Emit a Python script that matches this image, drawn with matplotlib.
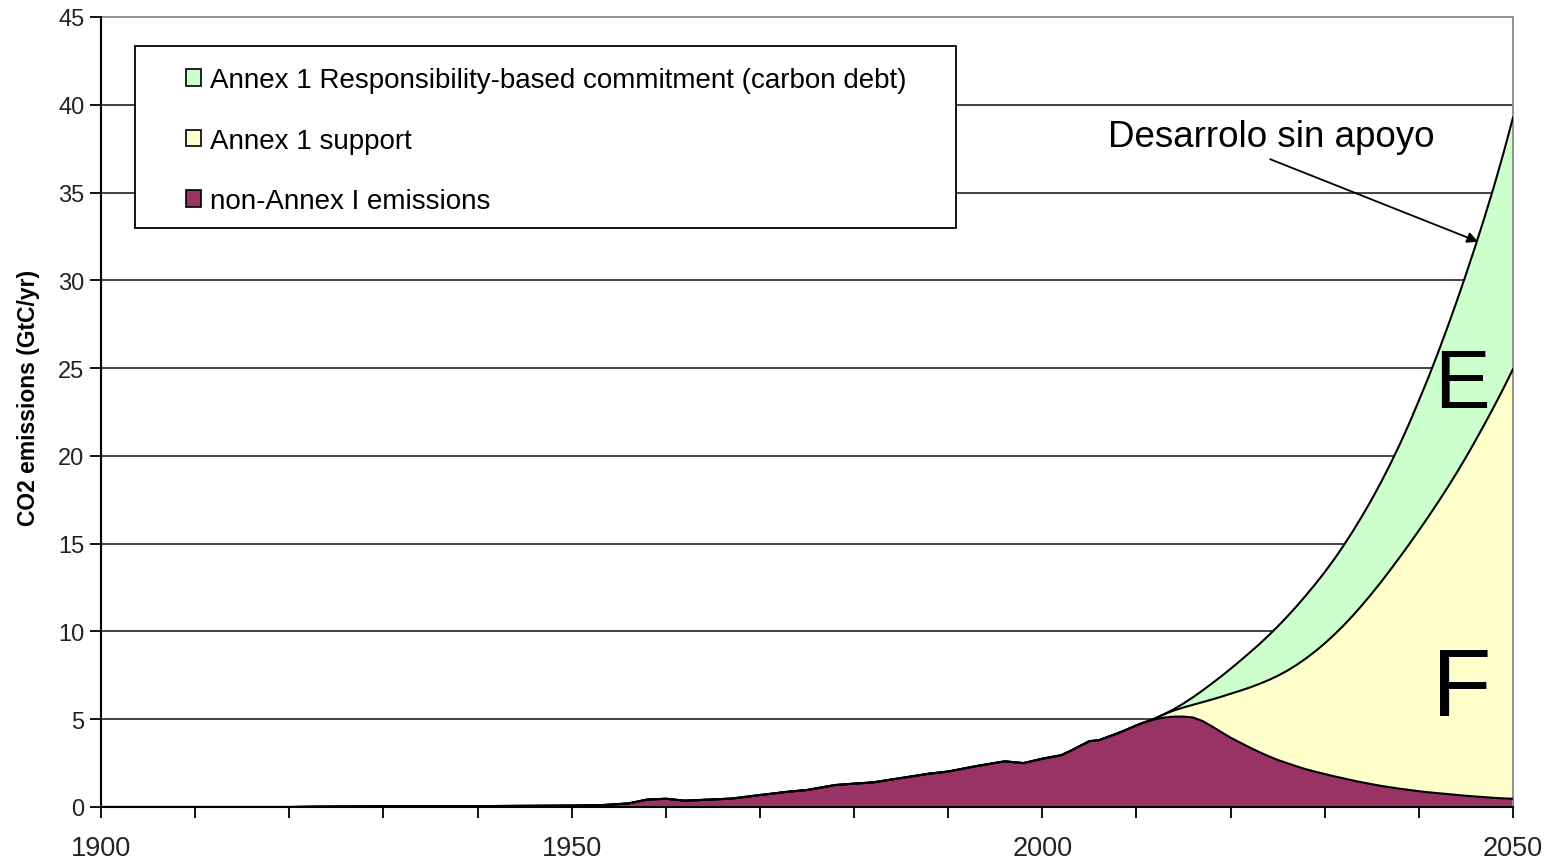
import matplotlib
matplotlib.use("Agg")
import matplotlib.pyplot as plt
import numpy as np
from matplotlib.patches import Patch, Rectangle

plt.rcParams['font.family'] = ['Liberation Sans', 'DejaVu Sans']

# --- historical non-Annex I emissions (GtC/yr) ---
hist_years = [1900, 1920, 1923, 1930, 1940, 1950, 1953, 1956, 1958, 1960, 1962, 1965,
              1967, 1970, 1973, 1975, 1978, 1980, 1982, 1985, 1988, 1990, 1993, 1996,
              1998, 2000, 2002, 2003, 2005, 2006]
hist_non_annex_I = [0, 0, 0.02, 0.04, 0.05, 0.08, 0.1, 0.2, 0.42, 0.47, 0.36, 0.43,
                    0.48, 0.68, 0.87, 0.97, 1.25, 1.33, 1.4, 1.65, 1.9, 2.02, 2.33, 2.6,
                    2.5, 2.75, 2.95, 3.2, 3.75, 3.8]

# --- projection 2008-2050 (stacked boundaries) ---
proj_years = list(range(2008, 2051))
proj_non_annex_I = [4.2, 4.42, 4.65, 4.85, 5.0, 5.1, 5.15, 5.15, 5.1, 4.9, 4.6, 4.27,
                    3.95, 3.67, 3.4, 3.14, 2.9, 2.68, 2.5, 2.32, 2.15, 2.01, 1.88, 1.75,
                    1.63, 1.51, 1.4, 1.3, 1.2, 1.12, 1.04, 0.97, 0.9, 0.84, 0.79, 0.74,
                    0.69, 0.64, 0.6, 0.56, 0.52, 0.49, 0.47]
proj_with_support = [4.2, 4.42, 4.65, 4.85, 5.05, 5.3, 5.5, 5.67, 5.82, 5.97, 6.12, 6.28,
                     6.45, 6.62, 6.8, 7.0, 7.22, 7.47, 7.76, 8.09, 8.46, 8.87, 9.32, 9.81,
                     10.34, 10.91, 11.52, 12.16, 12.83, 13.53, 14.25, 14.99, 15.75, 16.53,
                     17.33, 18.16, 19.02, 19.92, 20.86, 21.83, 22.83, 23.86, 24.95]
proj_total = [4.2, 4.42, 4.65, 4.85, 5.05, 5.3, 5.58, 5.9, 6.25, 6.63, 7.03, 7.44,
              7.87, 8.32, 8.78, 9.25, 9.75, 10.28, 10.84, 11.43, 12.05, 12.70, 13.38,
              14.11, 14.89, 15.72, 16.60, 17.53, 18.52, 19.57, 20.69, 21.88, 23.15,
              24.45, 25.83, 27.27, 28.77, 30.33, 31.95, 33.63, 35.39, 37.27, 39.27]

series_labels = ["Annex 1 Responsibility-based commitment (carbon debt)",
                 "Annex 1 support",
                 "non-Annex I emissions"]
x_tick_labels = ["1900", "1950", "2000", "2050"]
y_label = "CO2 emissions (GtC/yr)"
annotation_text = "Desarrolo sin apoyo"

c_debt = "#CCFFCC"
c_support = "#FFFFCC"
c_non = "#993366"

# components of the stack
years = np.array(hist_years + proj_years, dtype=float)
non_annex_I = np.array(hist_non_annex_I + proj_non_annex_I)
annex1_support = np.concatenate([np.zeros(len(hist_years)),
                                 np.array(proj_with_support) - np.array(proj_non_annex_I)])
annex1_debt = np.concatenate([np.zeros(len(hist_years)),
                              np.array(proj_total) - np.array(proj_with_support)])

fig = plt.figure(figsize=(15.49, 8.62), dpi=100)
ax = fig.add_axes([101/1549, 1-808/862, (1513-101)/1549, (808-18)/862])

top1 = non_annex_I
top2 = top1 + annex1_support
top3 = top2 + annex1_debt

for yv in range(5, 45, 5):
    ax.axhline(yv, color="#333333", lw=1.3, zorder=1)

ax.fill_between(years, top2, top3, facecolor=c_debt, edgecolor="none", zorder=2)
ax.fill_between(years, top1, top2, facecolor=c_support, edgecolor="none", zorder=2)
ax.fill_between(years, 0, top1, facecolor=c_non, edgecolor="none", zorder=2)
ax.plot(years, top3, color="black", lw=1.5, zorder=3)
ax.plot(years, top2, color="black", lw=1.5, zorder=3)
ax.plot(years, top1, color="black", lw=1.5, zorder=3)

ax.set_xlim(1900, 2050)
ax.set_ylim(0, 45)
ax.set_xticks([1900, 1950, 2000, 2050])
ax.set_xticklabels(x_tick_labels)
ax.set_xticks(np.arange(1900, 2051, 10), minor=True)
ax.set_yticks(np.arange(0, 46, 5))
ax.tick_params(axis='x', which='both', direction='out', length=8, width=1.3,
               colors='black', labelsize=19.5, pad=12)
ax.tick_params(axis='y', direction='out', length=8, width=1.3, labelsize=17, pad=4)
for lbl in ax.get_xticklabels() + ax.get_yticklabels():
    lbl.set_color("#222222")

for side in ["left", "bottom"]:
    ax.spines[side].set_color("black")
    ax.spines[side].set_linewidth(1.5)
    ax.spines[side].set_zorder(5)
for side in ["top", "right"]:
    ax.spines[side].set_color("#888888")
    ax.spines[side].set_linewidth(1.3)

fig.text(28/1549, 1-398/862, y_label, rotation=90, ha="center", va="center",
         fontsize=16.5, fontweight="bold")

# legend box
rect = Rectangle((135/1549, 1-229/862), (956-135)/1549, (229-47)/862,
                 transform=fig.transFigure, facecolor="white", edgecolor="black",
                 lw=1.3, zorder=5, clip_on=False)
ax.add_patch(rect)

handles = [Patch(facecolor=c_debt, edgecolor="black", lw=1.2),
           Patch(facecolor=c_support, edgecolor="black", lw=1.2),
           Patch(facecolor=c_non, edgecolor="black", lw=1.2)]
leg = ax.legend(handles, series_labels, loc="upper left",
                bbox_to_anchor=((186-101)/1412, (808-68)/790),
                fontsize=20, frameon=False, borderpad=0,
                labelspacing=1.25, handlelength=0.55, handleheight=0.55,
                handletextpad=0.32, borderaxespad=0)
leg.set_zorder(6)

ax.text(2024.3, 38.2, annotation_text, fontsize=26.5, ha="center", va="center", zorder=7)
ax.annotate("", xy=(2046.3, 32.2), xytext=(2024.2, 36.9),
            arrowprops=dict(arrowstyle="-|>", color="black", lw=1.3,
                            mutation_scale=16, shrinkA=0, shrinkB=0),
            zorder=7)

ax.text(2044.6, 24.05, "E", fontsize=60, ha="center", va="center", zorder=7)
ax.text(2044.6, 6.65, "F", fontsize=70, ha="center", va="center", zorder=7)

fig.savefig("out.png", dpi=100)
